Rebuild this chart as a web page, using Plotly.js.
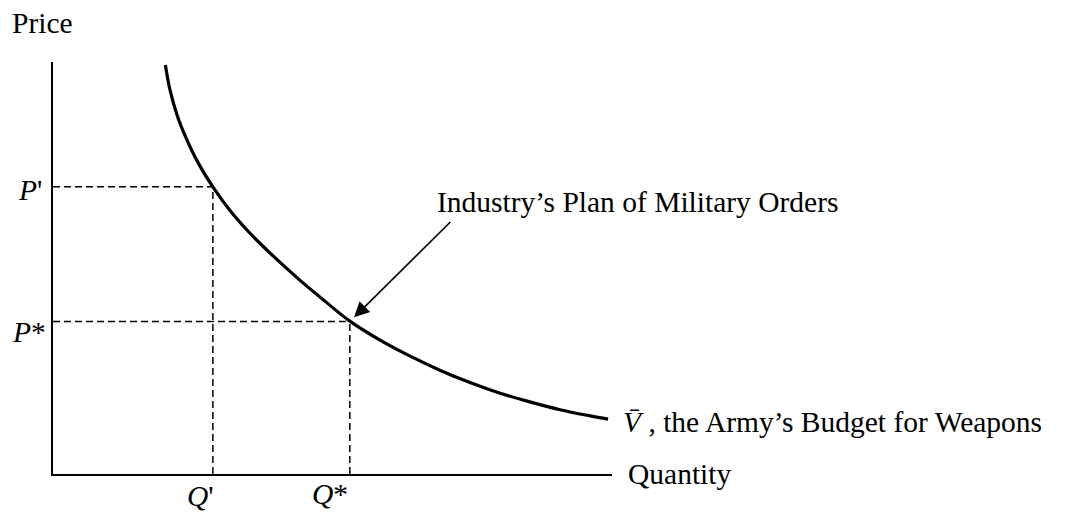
<!DOCTYPE html>
<html>
<head>
<meta charset="utf-8">
<script src="https://cdn.plot.ly/plotly-3.0.1.min.js"></script>
<style>html,body{margin:0;padding:0;background:#fff;}#chart{width:1084px;height:518px;}</style>
</head>
<body>
<div id="chart"></div>
<script>
// Budget curve (quantity vs price)
const curveQ = [2.01, 2.09, 2.22, 2.38, 2.59, 2.86, 3.17, 3.52, 3.97, 4.42, 4.87, 5.31, 5.85, 6.39, 6.92, 7.46, 8.00, 8.53, 9.07, 9.61, 9.93];
const curveP = [9.93, 9.34, 8.71, 8.16, 7.57, 6.97, 6.39, 5.85, 5.25, 4.70, 4.19, 3.71, 3.25, 2.86, 2.52, 2.22, 1.96, 1.75, 1.56, 1.41, 1.33];

// Marked points
const qPrime = 2.86, pPrime = 6.97;
const qStar = 5.31, pStar = 3.70;

// Text labels
const yLabel = "Price";
const xLabel = "Quantity";
const pPrimeLabel = "<i>P</i>'";
const pStarLabel = "<i>P</i>*";
const qPrimeLabel = "<i>Q</i>'";
const qStarLabel = "<i>Q</i>*";
const curveLabel = "<i>V\u0304</i> , the Army\u2019s Budget for Weapons";
const planLabel = "Industry\u2019s Plan of Military Orders";

const FONT = "Liberation Serif, Times New Roman, serif";
const FS = 29.5;
const dashStyle = {color: "#000", width: 1.5, dash: "7px,4px"};

const traces = [
  {x: [0, qPrime], y: [pPrime, pPrime], mode: "lines", line: dashStyle, hoverinfo: "skip"},
  {x: [qPrime, qPrime], y: [0, pPrime], mode: "lines", line: dashStyle, hoverinfo: "skip"},
  {x: [0, qStar], y: [pStar, pStar], mode: "lines", line: dashStyle, hoverinfo: "skip"},
  {x: [qStar, qStar], y: [0, pStar], mode: "lines", line: dashStyle, hoverinfo: "skip"},
  {x: curveQ, y: curveP, mode: "lines", line: {color: "#000", width: 3.2, shape: "spline", smoothing: 1}, hoverinfo: "skip"}
];

const lastQ = curveQ[curveQ.length - 1], lastP = curveP[curveP.length - 1];
const txt = (o) => Object.assign({showarrow: false, font: {family: FONT, size: FS, color: "#000"}}, o);

const annotations = [
  txt({text: yLabel, xref: "paper", yref: "paper", x: 0, y: 1, xanchor: "left", yanchor: "middle", xshift: -43, yshift: 39}),
  txt({text: xLabel, xref: "paper", yref: "paper", x: 1, y: 0, xanchor: "left", yanchor: "middle", xshift: 14, yshift: 0}),
  txt({text: pPrimeLabel, xref: "paper", yref: "y", x: 0, y: pPrime, xanchor: "right", yanchor: "middle", xshift: -9, yshift: -3}),
  txt({text: pStarLabel, xref: "paper", yref: "y", x: 0, y: pStar, xanchor: "right", yanchor: "middle", xshift: -5, yshift: -10}),
  txt({text: qPrimeLabel, xref: "x", yref: "paper", x: qPrime, y: 0, xanchor: "center", yanchor: "middle", xshift: -12, yshift: -22}),
  txt({text: qStarLabel, xref: "x", yref: "paper", x: qStar, y: 0, xanchor: "center", yanchor: "middle", xshift: -20, yshift: -20}),
  txt({text: curveLabel, xref: "x", yref: "y", x: lastQ, y: lastP, xanchor: "left", yanchor: "middle", xshift: 13, yshift: -3}),
  txt({text: planLabel, xref: "x", yref: "y", x: qStar, y: pStar, xanchor: "left", yanchor: "middle", xshift: 85, yshift: 120}),
  {text: "", x: qStar, y: pStar, xref: "x", yref: "y", showarrow: true, arrowhead: 2, arrowsize: 1.9, arrowwidth: 1.6,
   arrowcolor: "#000", ax: 102, ay: -101, standoff: 6}
];

const layout = {
  width: 1084, height: 518,
  margin: {l: 53, r: 472, t: 62, b: 44, pad: 0},
  paper_bgcolor: "#fff", plot_bgcolor: "#fff",
  showlegend: false,
  xaxis: {range: [0, 10], showline: true, linecolor: "#000", linewidth: 1.6, showgrid: false, zeroline: false,
          showticklabels: false, ticks: "", fixedrange: true},
  yaxis: {range: [0, 10], showline: true, linecolor: "#000", linewidth: 1.6, showgrid: false, zeroline: false,
          showticklabels: false, ticks: "", fixedrange: true},
  annotations: annotations,
  font: {family: FONT, size: FS, color: "#000"}
};

Plotly.newPlot("chart", traces, layout, {staticPlot: true, displayModeBar: false});
</script>
</body>
</html>
